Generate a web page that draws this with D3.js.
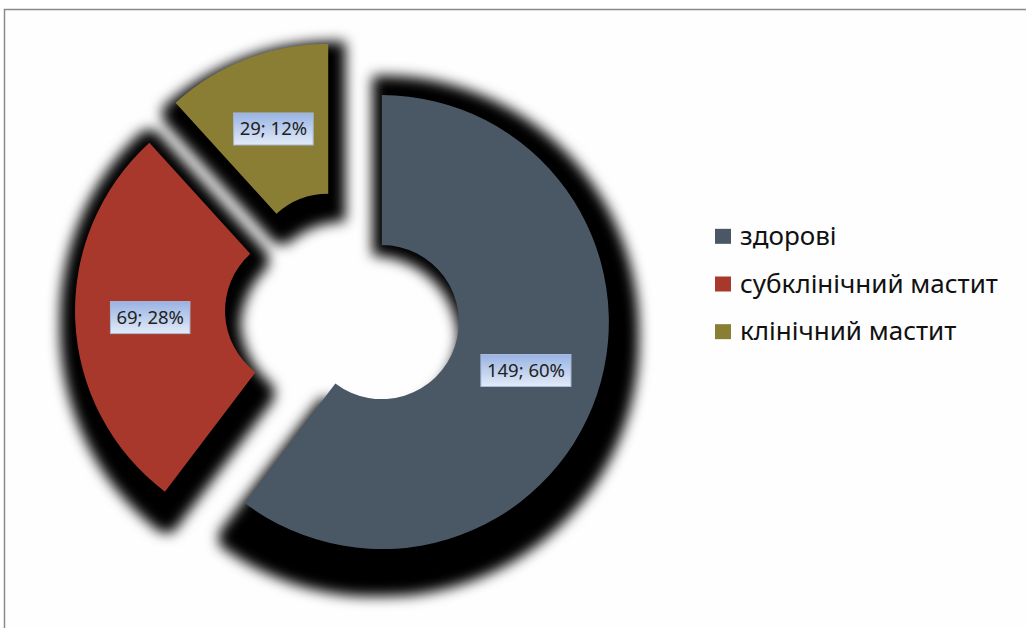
<!DOCTYPE html>
<html>
<head>
<meta charset="utf-8">
<script src="https://cdn.jsdelivr.net/npm/d3@7"></script>
<style>
    body { margin: 0; background: #ffffff; }
    svg { display: block; }
</style>
</head>
<body>
<div id="chart"></div>
<script>
const categories = ['здорові', 'субклінічний мастит', 'клінічний мастит'];
const values = [149, 69, 29];
const colors = ['#4a5866', '#a8382b', '#8a7e35'];

const defaults = {
    width: 1026,
    height: 628,
    centerX: 343,
    centerY: 309,
    innerRadius: 77,
    outerRadius: 227,
    explode: 41,
    shadowScale: 1.12,
    shadowDx: 2,
    shadowDy: 14,
    fontFamily: '"Noto Sans", "DejaVu Sans", sans-serif'
};

const total = d3.sum(values);

const svg = d3.select('#chart').append('svg')
    .attr('width', defaults.width)
    .attr('height', defaults.height)
    .attr('font-family', defaults.fontFamily);

const defs = svg.append('defs');

// blurred, slightly grown drop shadow for the slices
const shadowFilter = defs.append('filter')
    .attr('id', 'sliceShadow')
    .attr('x', '-30%').attr('y', '-30%')
    .attr('width', '160%').attr('height', '160%');
shadowFilter.append('feMorphology')
    .attr('operator', 'dilate')
    .attr('radius', 5)
    .attr('result', 'grown');
shadowFilter.append('feGaussianBlur')
    .attr('in', 'grown')
    .attr('stdDeviation', 5.5);

// label box fill
const grad = defs.append('linearGradient')
    .attr('id', 'labelFill')
    .attr('x1', 0).attr('y1', 0).attr('x2', 0).attr('y2', 1);
grad.append('stop').attr('offset', '0%').attr('stop-color', '#98b3e3');
grad.append('stop').attr('offset', '100%').attr('stop-color', '#e3ebf8');

// chart area border
svg.append('rect')
    .attr('x', 4.5)
    .attr('y', 9.5)
    .attr('width', defaults.width + 20)
    .attr('height', defaults.height + 20)
    .attr('fill', '#fefefe')
    .attr('stroke', '#8a8a8a')
    .attr('stroke-width', 1.5);

const pie = d3.pie().sort(null).value(d => d);
const arcs = pie(values);

const arc = d3.arc()
    .innerRadius(defaults.innerRadius)
    .outerRadius(defaults.outerRadius);

function explodeOffset(d) {
    const mid = (d.startAngle + d.endAngle) / 2;
    return [Math.sin(mid) * defaults.explode, -Math.cos(mid) * defaults.explode];
}

const root = svg.append('g')
    .attr('transform', `translate(${defaults.centerX}, ${defaults.centerY})`);

// Shadows first, so every slice sits on top of them
const shadowLayer = root.append('g');
shadowLayer.selectAll('path')
    .data(arcs)
    .join('path')
    .attr('d', arc)
    .attr('fill', '#000')
    .attr('filter', 'url(#sliceShadow)')
    .attr('transform', function (d) {
        const b = this.getBBox();
        const cx = b.x + b.width / 2;
        const cy = b.y + b.height / 2;
        const [ex, ey] = explodeOffset(d);
        return `translate(${ex + defaults.shadowDx}, ${ey + defaults.shadowDy}) ` +
            `translate(${cx}, ${cy}) scale(${defaults.shadowScale}) translate(${-cx}, ${-cy})`;
    });

root.append('g').selectAll('path')
    .data(arcs)
    .join('path')
    .attr('d', arc)
    .attr('fill', (d, i) => colors[i])
    .attr('transform', d => `translate(${explodeOffset(d)})`);

// Data labels: "value; percent" in a small gradient box
const labels = root.append('g').selectAll('g')
    .data(arcs)
    .join('g')
    .attr('transform', d => {
        const [ex, ey] = explodeOffset(d);
        const [lx, ly] = arc.centroid(d);
        return `translate(${lx + ex}, ${ly + ey})`;
    });

const labelRects = labels.append('rect')
    .attr('fill', 'url(#labelFill)')
    .attr('stroke', '#a9b9d6')
    .attr('stroke-width', 1);

const labelTexts = labels.append('text')
    .attr('text-anchor', 'middle')
    .attr('dy', '0.35em')
    .attr('font-size', 18.5)
    .attr('fill', '#222')
    .text(d => `${d.data}; ${Math.round(d.data / total * 100)}%`);

labelRects.each(function (d, i) {
    const w = labelTexts.nodes()[i].getComputedTextLength() + 12;
    const h = 32;
    d3.select(this)
        .attr('x', -w / 2).attr('y', -h / 2)
        .attr('width', w).attr('height', h);
});

// Legend
const legendScale = d3.scaleBand()
    .domain(categories)
    .range([212, 355]);

const legend = svg.append('g').selectAll('g')
    .data(categories)
    .join('g')
    .attr('transform', d => `translate(715, ${legendScale(d) + legendScale.bandwidth() / 2})`);

legend.append('rect')
    .attr('x', 0)
    .attr('y', -7)
    .attr('width', 16)
    .attr('height', 15)
    .attr('fill', (d, i) => colors[i]);

legend.append('text')
    .attr('x', 25)
    .attr('dy', '0.35em')
    .attr('font-size', 26)
    .attr('fill', '#111')
    .text(d => d);
</script>
</body>
</html>
